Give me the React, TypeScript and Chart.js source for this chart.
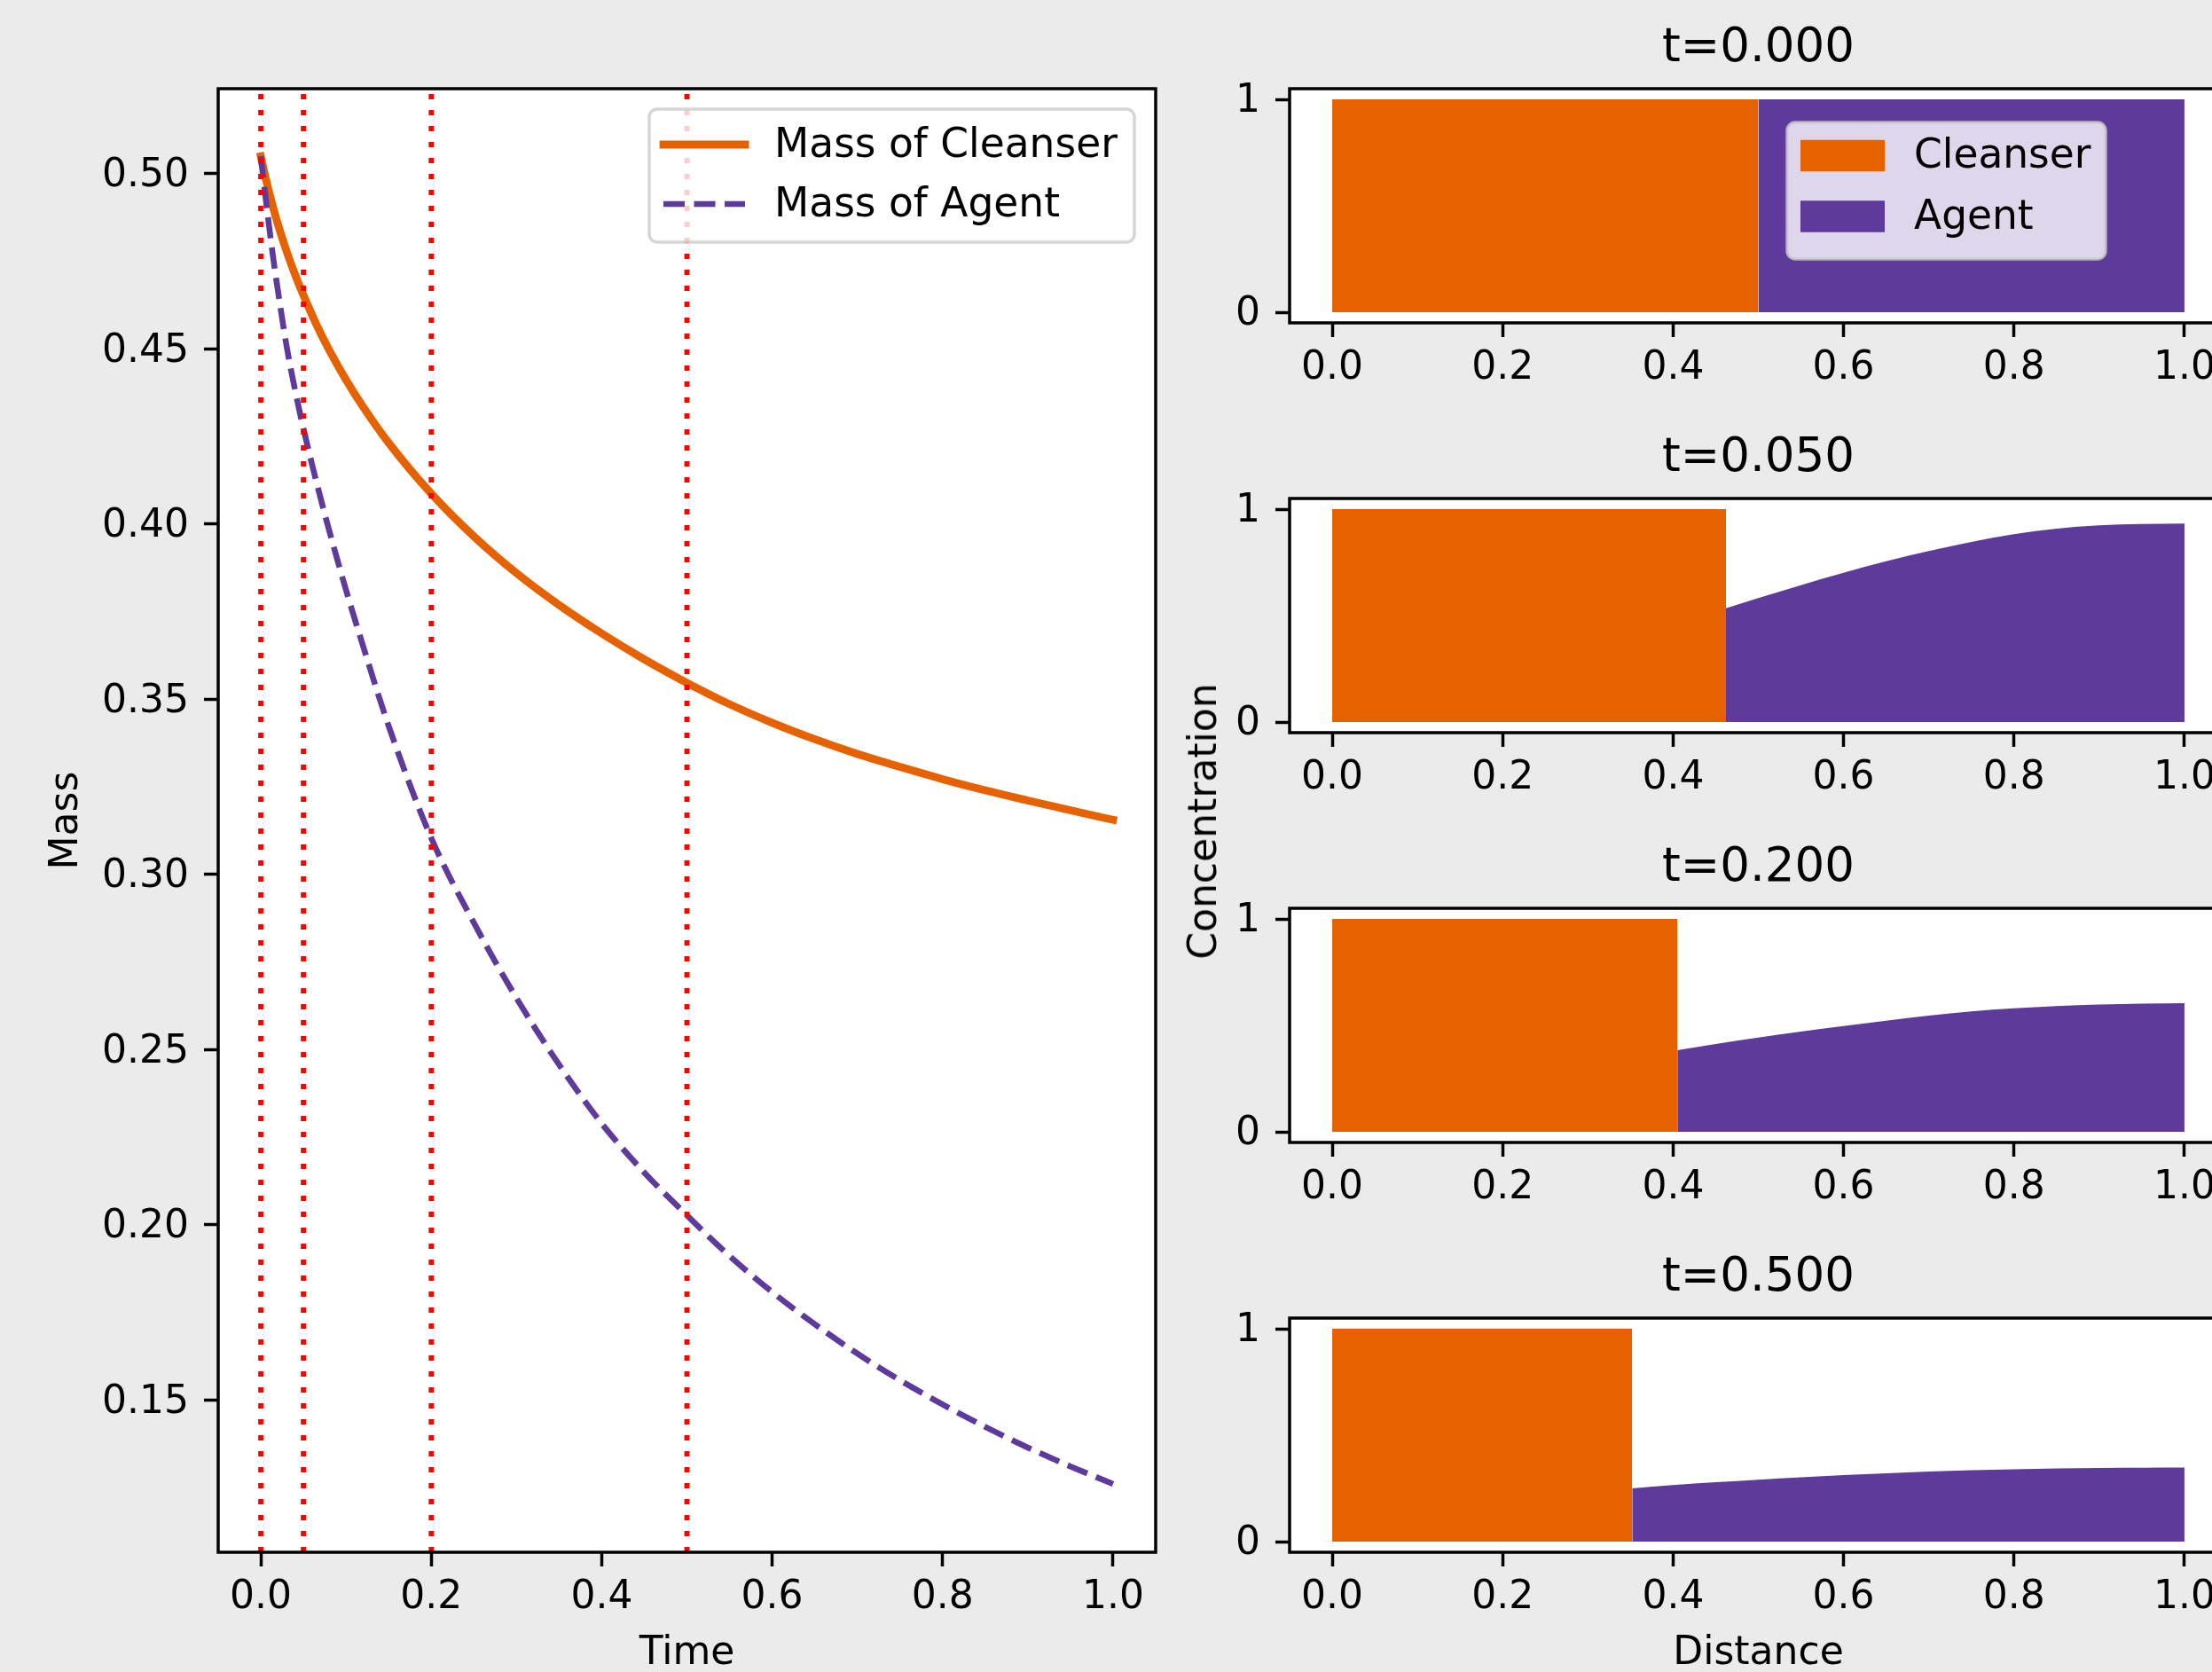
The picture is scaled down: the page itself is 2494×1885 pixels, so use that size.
import React, { useEffect, useRef } from 'react';
import { Chart, registerables } from 'chart.js';

Chart.register(...registerables);

// ---------------- data ----------------
const TIME = [0, 0.005, 0.01, 0.015, 0.02, 0.03, 0.04, 0.05, 0.065, 0.08, 0.1, 0.12, 0.15, 0.2, 0.25, 0.3, 0.35, 0.4, 0.45, 0.5, 0.55, 0.6, 0.65, 0.7, 0.75, 0.8, 0.85, 0.9, 0.95, 1.0];
const MASS_CLEANSER = [0.505, 0.4995, 0.4945, 0.4899, 0.48565, 0.47805, 0.47135, 0.46535, 0.4571, 0.4498, 0.4412, 0.4335, 0.4232, 0.4087, 0.3965, 0.386, 0.3769, 0.3688, 0.3614, 0.3547, 0.3486, 0.3433, 0.3386, 0.3344, 0.3307, 0.3272, 0.324, 0.3211, 0.3183, 0.3156];
const MASS_AGENT = [0.505, 0.4945, 0.4845, 0.4752, 0.4668, 0.4512, 0.4385, 0.4273, 0.4123, 0.3984, 0.3812, 0.3652, 0.3424, 0.3104, 0.2862, 0.2647, 0.2457, 0.2289, 0.2149, 0.2027, 0.1911, 0.1808, 0.1716, 0.1632, 0.1556, 0.1487, 0.1423, 0.1364, 0.131, 0.126];

const SNAPSHOT_TIMES = [0, 0.05, 0.2, 0.5];
const CLEANSER_FRONT = [0.5, 0.462, 0.405, 0.352];
const AGENT_X = [
  [0.5, 1.0],
  [0.462, 0.5, 0.55, 0.6, 0.65, 0.7, 0.75, 0.8, 0.85, 0.9, 0.95, 1.0],
  [0.405, 0.45, 0.5, 0.55, 0.6, 0.65, 0.7, 0.75, 0.8, 0.85, 0.9, 0.95, 1.0],
  [0.352, 0.4, 0.45, 0.5, 0.55, 0.6, 0.65, 0.7, 0.75, 0.8, 0.85, 0.9, 0.95, 1.0],
];
const AGENT_C = [
  [1, 1],
  [0.534, 0.582, 0.643, 0.701, 0.755, 0.803, 0.846, 0.882, 0.908, 0.924, 0.93, 0.932],
  [0.383, 0.413, 0.443, 0.471, 0.497, 0.522, 0.546, 0.566, 0.58, 0.591, 0.598, 0.602, 0.604],
  [0.25, 0.266, 0.279, 0.291, 0.302, 0.312, 0.321, 0.329, 0.335, 0.34, 0.344, 0.346, 0.347, 0.348],
];

const TIME_TICKS = [0, 0.2, 0.4, 0.6, 0.8, 1.0];
const MASS_TICKS = [0.15, 0.2, 0.25, 0.3, 0.35, 0.4, 0.45, 0.5];
const DIST_TICKS = [0, 0.2, 0.4, 0.6, 0.8, 1.0];
const CONC_TICKS = [0, 1];

// axis limits
const TIME_MIN = -0.05;
const TIME_MAX = 1.05;
const MASS_MIN = 0.1065;
const MASS_MAX = 0.5243;
const DIST_MIN = -0.05;
const DIST_MAX = 1.05;
const CONC_MIN = -0.05;
const CONC_MAX = 1.05;

// ---------------- style ----------------
const FONT = '"DejaVu Sans", "Liberation Sans", sans-serif';
const BG = '#ebebeb';
const ORANGE = '#e66100';
const PURPLE = '#5d3a9b';
const TICK_FONT = 44;
const LEGEND_FONT = 45.5;
const TITLE_FONT = 53;

Chart.defaults.font.family = FONT;
Chart.defaults.color = '#000';

const framePlugin = {
  id: 'mplFrame',
  beforeDraw(chart: any) {
    const { ctx, chartArea: a } = chart;
    ctx.save();
    ctx.fillStyle = '#ffffff';
    ctx.fillRect(a.left, a.top, a.right - a.left, a.bottom - a.top);
    ctx.restore();
  },
  afterDatasetsDraw(chart: any) {
    const { ctx, chartArea: a } = chart;
    ctx.save();
    ctx.strokeStyle = '#000';
    ctx.lineWidth = 3.5;
    ctx.strokeRect(a.left, a.top, a.right - a.left, a.bottom - a.top);
    ctx.restore();
  },
};

function makeLegend(cfg: any) {
  return {
    id: 'mplLegend',
    afterDraw(chart: any) {
      const { ctx, chartArea: a } = chart;
      const x = a.left + cfg.dx;
      const y = a.top + cfg.dy;
      ctx.save();
      ctx.beginPath();
      ctx.roundRect(x, y, cfg.width, cfg.height, 9);
      ctx.fillStyle = 'rgba(255,255,255,0.8)';
      ctx.fill();
      ctx.lineWidth = 3.5;
      ctx.strokeStyle = 'rgba(204,204,204,0.8)';
      ctx.stroke();
      cfg.items.forEach((idx: number, i: number) => {
        const ds = chart.data.datasets[idx];
        const cy = y + cfg.firstRow + i * cfg.rowGap;
        if (cfg.kind === 'line') {
          ctx.beginPath();
          ctx.setLineDash(ds.borderDash || []);
          ctx.lineWidth = ds.borderWidth;
          ctx.strokeStyle = ds.borderColor;
          ctx.lineCap = ds.borderDash ? 'butt' : 'square';
          ctx.moveTo(x + cfg.handleX, cy);
          ctx.lineTo(x + cfg.handleX + cfg.handleW, cy);
          ctx.stroke();
          ctx.setLineDash([]);
        } else {
          ctx.fillStyle = ds.backgroundColor;
          ctx.fillRect(x + cfg.handleX, cy - cfg.patchH / 2, cfg.handleW, cfg.patchH);
        }
        ctx.fillStyle = '#000';
        ctx.font = `${LEGEND_FONT}px ${FONT}`;
        ctx.textBaseline = 'middle';
        ctx.textAlign = 'left';
        ctx.fillText(ds.label, x + cfg.textX, cy + cfg.textDy);
      });
      ctx.restore();
    },
  };
}

const gridOpts = {
  display: true,
  drawOnChartArea: false,
  drawTicks: true,
  tickLength: 16,
  tickWidth: 3.5,
  tickColor: '#000',
};

function fixedTicks(values: number[]) {
  return (scale: any) => {
    scale.ticks = values.map((v) => ({ value: v }));
  };
}

function leftConfig(): any {
  return {
    type: 'line',
    data: {
      datasets: [
        {
          label: 'Mass of Cleanser',
          data: TIME.map((t, i) => ({ x: t, y: MASS_CLEANSER[i] })),
          borderColor: ORANGE,
          borderWidth: 8.8,
          borderCapStyle: 'square',
          borderJoinStyle: 'round',
          pointRadius: 0,
          fill: false,
          cubicInterpolationMode: 'monotone',
          order: 2,
        },
        {
          label: 'Mass of Agent',
          data: TIME.map((t, i) => ({ x: t, y: MASS_AGENT[i] })),
          borderColor: PURPLE,
          borderWidth: 6.6,
          borderDash: [24, 10.5],
          borderCapStyle: 'butt',
          pointRadius: 0,
          fill: false,
          cubicInterpolationMode: 'monotone',
          order: 1,
        },
        ...SNAPSHOT_TIMES.map((t) => ({
          label: '',
          data: [
            { x: t, y: MASS_MIN },
            { x: t, y: MASS_MAX },
          ],
          borderColor: '#ff0000',
          borderWidth: 5.8,
          borderDash: [6, 12],
          borderCapStyle: 'butt',
          pointRadius: 0,
          fill: false,
          tension: 0,
          order: 0,
        })),
      ],
    },
    options: {
      responsive: false,
      animation: false,
      devicePixelRatio: 1,
      events: [],
      layout: { padding: { left: 0, top: 100, right: 17, bottom: 0 } },
      plugins: { legend: { display: false }, tooltip: { enabled: false }, title: { display: false } },
      scales: {
        x: {
          type: 'linear',
          min: TIME_MIN,
          max: TIME_MAX,
          afterBuildTicks: fixedTicks(TIME_TICKS),
          afterFit: (s: any) => {
            s.height = 135;
          },
          ticks: { callback: (v: any) => Number(v).toFixed(1), font: { size: TICK_FONT }, padding: 9, maxRotation: 0, autoSkip: false },
          grid: gridOpts,
          border: { display: false },
          title: { display: true, text: 'Time', font: { size: TICK_FONT }, padding: { top: 0, bottom: -6 } },
        },
        y: {
          type: 'linear',
          min: MASS_MIN,
          max: MASS_MAX,
          afterBuildTicks: fixedTicks(MASS_TICKS),
          afterFit: (s: any) => {
            s.width = 246;
          },
          ticks: { callback: (v: any) => Number(v).toFixed(2), font: { size: TICK_FONT }, padding: 17, autoSkip: false, labelOffset: 3 },
          grid: gridOpts,
          border: { display: false },
          title: { display: true, text: 'Mass', font: { size: TICK_FONT }, padding: { top: 49, bottom: 0 } },
        },
      },
    },
    plugins: [
      framePlugin,
      makeLegend({ kind: 'line', items: [0, 1], dx: 486, dy: 23, width: 547, height: 150, handleX: 16, handleW: 92, firstRow: 40, rowGap: 67, textX: 141, textDy: 2 }),
    ],
  };
}

function rightConfig(i: number): any {
  const last = i === SNAPSHOT_TIMES.length - 1;
  const plugins: any[] = [framePlugin];
  if (i === 0) {
    plugins.push(
      makeLegend({ kind: 'patch', items: [0, 1], dx: 561, dy: 38, width: 359, height: 154, handleX: 15, handleW: 95, patchH: 35.5, firstRow: 37.5, rowGap: 68.5, textX: 143, textDy: 2 })
    );
  }
  return {
    type: 'line',
    data: {
      datasets: [
        {
          label: 'Cleanser',
          data: [
            { x: 0, y: 1 },
            { x: CLEANSER_FRONT[i], y: 1 },
          ],
          backgroundColor: ORANGE,
          borderColor: 'rgba(0,0,0,0)',
          borderWidth: 1,
          pointRadius: 0,
          fill: 'origin',
          tension: 0,
          order: 1,
        },
        {
          label: 'Agent',
          data: AGENT_X[i].map((x, j) => ({ x, y: AGENT_C[i][j] })),
          backgroundColor: PURPLE,
          borderColor: 'rgba(0,0,0,0)',
          borderWidth: 1,
          pointRadius: 0,
          fill: 'origin',
          cubicInterpolationMode: 'monotone',
          order: 0,
        },
      ],
    },
    options: {
      responsive: false,
      animation: false,
      devicePixelRatio: 1,
      events: [],
      layout: { padding: { left: 0, top: 0, right: 29, bottom: 0 } },
      plugins: {
        legend: { display: false },
        tooltip: { enabled: false },
        title: {
          display: true,
          text: `t=${SNAPSHOT_TIMES[i].toFixed(3)}`,
          font: { size: TITLE_FONT, weight: 'normal' },
          color: '#000',
          padding: { top: 23, bottom: 13.4 },
          fullSize: false,
        },
      },
      scales: {
        x: {
          type: 'linear',
          min: DIST_MIN,
          max: DIST_MAX,
          afterBuildTicks: fixedTicks(DIST_TICKS),
          afterFit: (s: any) => {
            s.height = last ? 135 : 100;
          },
          ticks: { callback: (v: any) => Number(v).toFixed(1), font: { size: TICK_FONT }, padding: 9, maxRotation: 0, autoSkip: false },
          grid: gridOpts,
          border: { display: false },
          title: { display: last, text: 'Distance', font: { size: TICK_FONT }, padding: { top: 0, bottom: -6 } },
        },
        y: {
          type: 'linear',
          min: CONC_MIN,
          max: CONC_MAX,
          afterBuildTicks: fixedTicks(CONC_TICKS),
          afterFit: (s: any) => {
            s.width = 134;
          },
          ticks: { callback: (v: any) => String(Math.round(Number(v))), font: { size: TICK_FONT }, padding: 17, autoSkip: false, labelOffset: 3 },
          grid: gridOpts,
          border: { display: false },
        },
      },
    },
    plugins,
  };
}

function ChartBox(props: { build: () => any; left: number; top: number; width: number; height: number }) {
  const ref = useRef<HTMLCanvasElement>(null);
  useEffect(() => {
    const chart = new Chart(ref.current as HTMLCanvasElement, props.build());
    return () => chart.destroy();
  }, []);
  return (
    <canvas
      ref={ref}
      width={props.width}
      height={props.height}
      style={{ position: 'absolute', left: props.left, top: props.top, width: props.width, height: props.height }}
    />
  );
}

const RIGHT_TOPS = [0, 462, 924, 1386];
const RIGHT_HEIGHTS = [464, 464, 464, 499];

export default function App() {
  return (
    <div style={{ position: 'absolute', left: 0, top: 0, width: 2494, height: 1885, overflow: 'hidden', background: BG }}>
      <ChartBox build={leftConfig} left={0} top={0} width={1320} height={1885} />
      {SNAPSHOT_TIMES.map((t, i) => (
        <ChartBox key={t} build={() => rightConfig(i)} left={1320} top={RIGHT_TOPS[i]} width={1220} height={RIGHT_HEIGHTS[i]} />
      ))}
      <div
        style={{
          position: 'absolute',
          left: 1356,
          top: 926,
          transform: 'translate(-50%, -50%) rotate(-90deg)',
          fontFamily: FONT,
          fontSize: 44,
          lineHeight: 1,
          whiteSpace: 'nowrap',
          color: '#000',
        }}
      >
        Concentration
      </div>
    </div>
  );
}
